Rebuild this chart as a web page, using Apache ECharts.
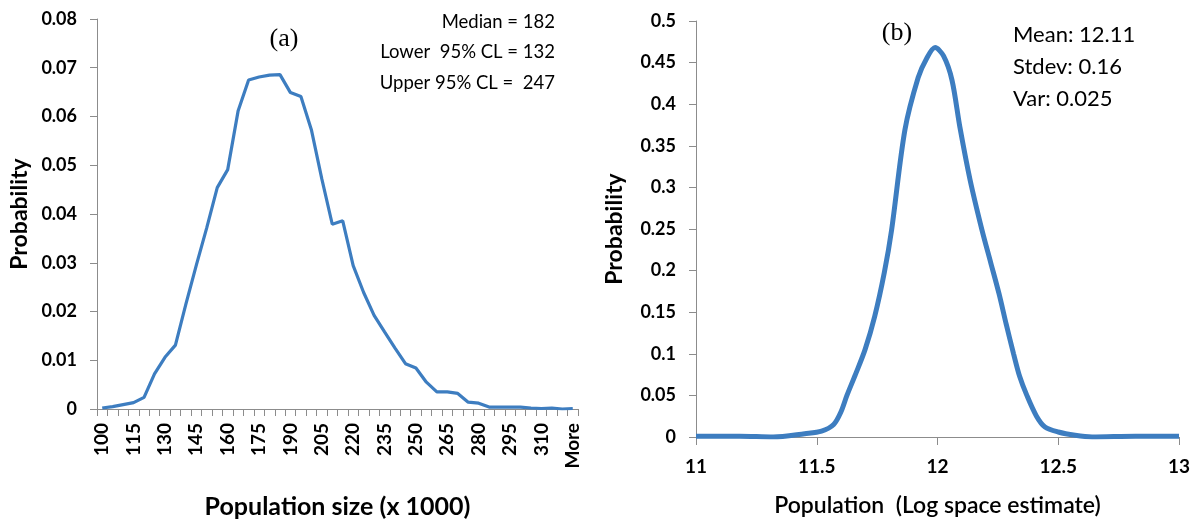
<!DOCTYPE html>
<html>
<head>
<meta charset="utf-8">
<script src="https://cdn.jsdelivr.net/npm/echarts@6/dist/echarts.min.js"></script>
<style>
html,body{margin:0;padding:0;background:#fff;}
#c{width:1194px;height:524px;}
</style>
</head>
<body>
<div id="c"></div>
<script>
// Panel (a): histogram of population size (x 1000)
const sizeCategories = ['100','105','110','115','120','125','130','135','140','145','150','155','160','165','170','175','180','185','190','195','200','205','210','215','220','225','230','235','240','245','250','255','260','265','270','275','280','285','290','295','300','305','310','315','320','More'];
const sizeProbability = [0.0002,0.0005,0.0009,0.0013,0.0024,0.0072,0.0106,0.0131,0.0215,0.0295,0.0372,0.0454,0.0491,0.0612,0.0675,0.0681,0.0685,0.0686,0.0649,0.0641,0.0573,0.0472,0.0379,0.0386,0.0294,0.0239,0.0192,0.0158,0.0125,0.0093,0.0084,0.0055,0.0035,0.0035,0.0032,0.0014,0.0012,0.0004,0.0004,0.0004,0.0004,0.0002,0.0001,0.0002,0.0000,0.0001];

// Panel (b): log-space density
const logX = [11.0,11.18,11.32,11.45,11.52,11.57,11.60,11.625,11.66,11.70,11.74,11.78,11.81,11.865,11.92,11.955,11.99,12.025,12.06,12.093,12.135,12.184,12.22,12.255,12.285,12.315,12.34,12.37,12.41,12.445,12.5,12.57,12.64,12.82,13.0];
const logProb = [0.001,0.001,0.0,0.004,0.007,0.015,0.03,0.05,0.075,0.105,0.145,0.198,0.249,0.369,0.432,0.455,0.468,0.458,0.429,0.372,0.309,0.249,0.21,0.172,0.135,0.1,0.073,0.05,0.025,0.012,0.006,0.002,0.0,0.001,0.001];

const annotA = ['Median = 182', 'Lower  95% CL = 132', 'Upper 95% CL =  247'];
const annotB = ['Mean: 12.11', 'Stdev: 0.16', 'Var: 0.025'];

const FONT = 'Lato';
const AXIS_GRAY = '#8c8c8c';
const LINE_BLUE = '#3d7dc0';

const chart = echarts.init(document.getElementById('c'), null, {renderer:'canvas'});

const axisLineStyle = {show:true, lineStyle:{color:AXIS_GRAY, width:1}};
const tickStyle = {show:true, length:7, lineStyle:{color:AXIS_GRAY, width:1}};

const option = {
  backgroundColor:'#ffffff',
  animation:false,
  grid:[
    {left:97, right:616, top:19, bottom:114, containLabel:false},
    {left:696, right:15, top:21, bottom:87, containLabel:false}
  ],
  xAxis:[
    {
      gridIndex:0, type:'category', data:sizeCategories, boundaryGap:true,
      axisLine:axisLineStyle,
      axisTick:{show:true, interval:0, length:7, lineStyle:{color:AXIS_GRAY}},
      axisLabel:{interval:2, rotate:90, margin:14, fontFamily:FONT, fontWeight:'bold', fontSize:19, color:'#000'},
      splitLine:{show:false},
      name:'Population size (x 1000)', nameLocation:'middle', nameGap:85,
      nameTextStyle:{fontFamily:FONT, fontWeight:'bold', fontSize:25, color:'#000'}
    },
    {
      gridIndex:1, type:'value', min:11, max:13, interval:0.5,
      axisLine:axisLineStyle,
      axisTick:{show:true, length:8, lineStyle:{color:AXIS_GRAY}},
      axisLabel:{margin:20, fontFamily:FONT, fontWeight:'bold', fontSize:19, color:'#000'},
      splitLine:{show:false},
      name:'Population  (Log space estimate)', nameLocation:'middle', nameGap:57,
      nameTextStyle:{fontFamily:FONT, fontWeight:'600', fontSize:23, color:'#000'}
    }
  ],
  yAxis:[
    {
      gridIndex:0, type:'value', min:0, max:0.08, interval:0.01,
      axisLine:axisLineStyle, axisTick:tickStyle,
      axisLabel:{margin:20, fontFamily:FONT, fontWeight:'bold', fontSize:18, color:'#000'},
      splitLine:{show:false},
      name:'Probability', nameLocation:'middle', nameGap:66, nameRotate:90,
      nameTextStyle:{fontFamily:FONT, fontWeight:'bold', fontSize:23, color:'#000'}
    },
    {
      gridIndex:1, type:'value', min:0, max:0.5, interval:0.05,
      axisLine:axisLineStyle, axisTick:tickStyle,
      axisLabel:{margin:20, fontFamily:FONT, fontWeight:'bold', fontSize:18, color:'#000'},
      splitLine:{show:false},
      name:'Probability', nameLocation:'middle', nameGap:70, nameRotate:90,
      nameTextStyle:{fontFamily:FONT, fontWeight:'bold', fontSize:23, color:'#000'}
    }
  ],
  series:[
    {
      type:'line', xAxisIndex:0, yAxisIndex:0, data:sizeProbability,
      showSymbol:false, smooth:false,
      lineStyle:{color:LINE_BLUE, width:3.2}
    },
    {
      type:'line', xAxisIndex:1, yAxisIndex:1,
      data:logX.map((x,i)=>[x, logProb[i]]),
      showSymbol:false, smooth:0.3,
      lineStyle:{color:LINE_BLUE, width:5}
    }
  ],
  graphic:[
    {type:'text', x:284, y:39, style:{text:'(a)', font:'26px "Liberation Serif"', fill:'#000', align:'center', verticalAlign:'middle'}},
    {type:'text', x:897, y:33, style:{text:'(b)', font:'26px "Liberation Serif"', fill:'#000', align:'center', verticalAlign:'middle'}},
    ...annotA.map((t,i)=>({type:'text', x:555, y:22+i*30.5, style:{text:t, font:'18.5px Lato', fill:'#000', align:'right', verticalAlign:'middle'}})),
    ...annotB.map((t,i)=>({type:'text', x:1013, y:35+i*32, style:{text:t, font:'22px Lato', fill:'#000', align:'left', verticalAlign:'middle'}}))
  ]
};
chart.setOption(option);
</script>
</body>
</html>
